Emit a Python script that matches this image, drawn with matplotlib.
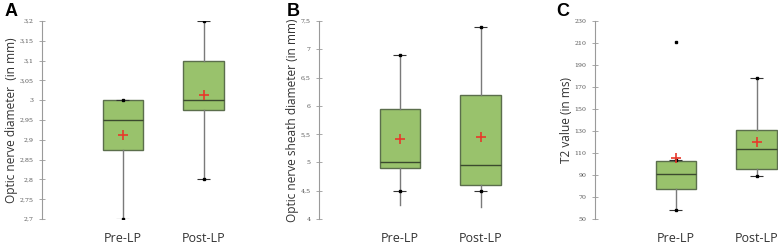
import matplotlib.pyplot as plt
from matplotlib.ticker import FuncFormatter

groups = ["Pre-LP", "Post-LP"]

# panel A: optic nerve diameter (mm)
a_lo = [2.7, 2.8]
a_q1 = [2.875, 2.975]
a_med = [2.95, 3.0]
a_q3 = [3.0, 3.1]
a_hi = [3.0, 3.2]
a_cap_lo = [2.7, 2.8]
a_mean = [2.912, 3.012]
a_out = [[], []]

# panel B: optic nerve sheath diameter (mm)
b_lo = [4.25, 4.22]
b_q1 = [4.9, 4.6]
b_med = [5.0, 4.95]
b_q3 = [5.95, 6.2]
b_hi = [6.9, 7.4]
b_cap_lo = [4.5, 4.5]
b_mean = [5.42, 5.45]
b_out = [[], []]

# panel C: T2 value (ms)
c_lo = [58, 89]
c_q1 = [77, 95]
c_med = [91, 114]
c_q3 = [103, 131]
c_hi = [104, 178]
c_cap_lo = [58, 89]
c_mean = [105, 120]
c_out = [[211], []]

panels = [
    ("A", "Optic nerve diameter  (in mm)", (2.7, 3.2), 0.05, a_lo, a_q1, a_med, a_q3, a_hi, a_cap_lo, a_mean, a_out),
    ("B", "Optic nerve sheath diameter (in mm)", (4, 7.5), 0.5, b_lo, b_q1, b_med, b_q3, b_hi, b_cap_lo, b_mean, b_out),
    ("C", "T2 value (in ms)", (50, 230), 20, c_lo, c_q1, c_med, c_q3, c_hi, c_cap_lo, c_mean, c_out),
]

fill = "#99c26c"
edge = "#5b6e4c"

fig = plt.figure(figsize=(7.78, 2.49), dpi=100)
lefts = [42, 319, 595]
letter_x = [5, 287, 556]

for i, (letter, ylab, ylim, step, lo, q1, med, q3, hi, caplo, mean, out) in enumerate(panels):
    ax = fig.add_axes([lefts[i] / 778, 30 / 249, 202 / 778, 198 / 249])
    stats = []
    for j in range(2):
        stats.append(dict(whislo=lo[j], q1=q1[j], med=med[j], q3=q3[j], whishi=hi[j], fliers=out[j]))
    ax.bxp(stats, positions=[1, 2], widths=0.5, patch_artist=True, showcaps=False,
           boxprops=dict(facecolor=fill, edgecolor=edge, linewidth=1),
           medianprops=dict(color="#3b4a2e", linewidth=1),
           whiskerprops=dict(color="#7a7a7a", linewidth=1),
           flierprops=dict(marker="s", markersize=2, markerfacecolor="black", markeredgecolor="black"))
    pos = [1, 2]
    ax.hlines(caplo, [p - 0.08 for p in pos], [p + 0.08 for p in pos], color="#333333", linewidth=0.8, zorder=3)
    ax.hlines(hi, [p - 0.08 for p in pos], [p + 0.08 for p in pos], color="#333333", linewidth=0.8, zorder=3)
    ax.plot(pos, caplo, "s", color="black", markersize=2, zorder=4)
    ax.plot(pos, hi, "s", color="black", markersize=2, zorder=4)
    ax.plot(pos, mean, "+", color="#e8382b", markersize=7, markeredgewidth=1.2, zorder=5)

    ax.set_xlim(0, 2.5)
    ax.set_ylim(*ylim)
    n = int(round((ylim[1] - ylim[0]) / step))
    ax.set_yticks([ylim[0] + k * step for k in range(n + 1)])
    ax.yaxis.set_major_formatter(FuncFormatter(lambda v, p: ("%g" % round(v, 3)).replace(".", ",")))
    for s in ["top", "right", "bottom"]:
        ax.spines[s].set_visible(False)
    ax.spines["left"].set_color("#9a9a9a")
    ax.spines["left"].set_linewidth(0.8)
    ax.tick_params(axis="y", direction="inout", length=4, width=0.6, color="#9a9a9a",
                   labelsize=4.5, labelcolor="#555555", pad=4)
    ax.tick_params(axis="x", length=0, labelsize=9, labelcolor="#333333", pad=9)
    ax.set_xticks(pos)
    ax.set_xticklabels(groups, family="Open Sans")
    for t in ax.get_yticklabels():
        t.set_family("DejaVu Serif")
    ax.set_ylabel(ylab, fontsize=8.6, color="#333333", family="Open Sans", labelpad=1)
    fig.text(letter_x[i] / 778, 1 - 3 / 249, letter, fontsize=13, fontweight="bold",
             family="Liberation Sans", va="top", ha="left")

fig.savefig("out.png", dpi=100)
